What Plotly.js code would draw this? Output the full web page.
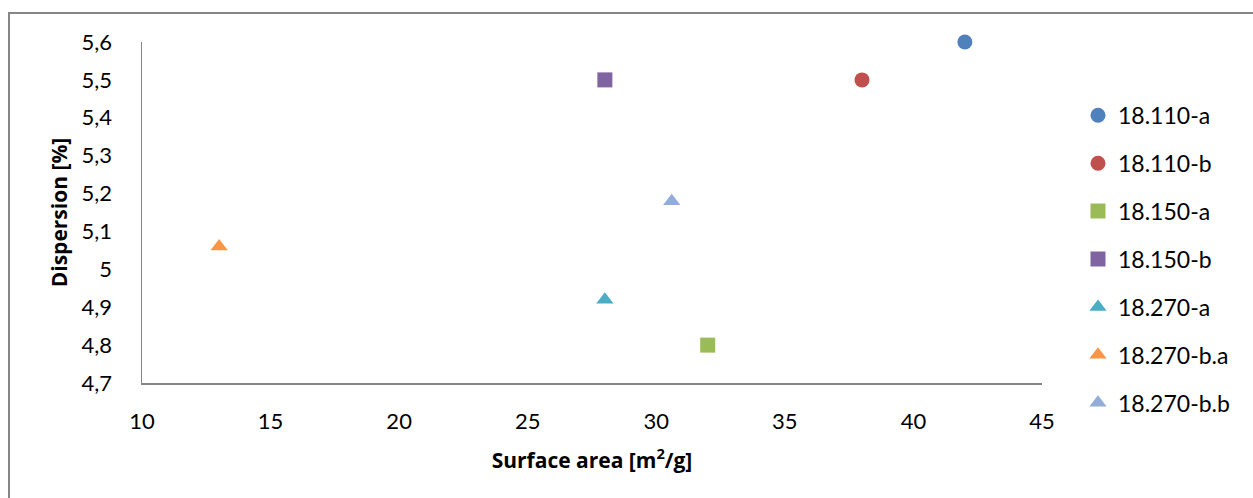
<!DOCTYPE html>
<html>
<head>
<meta charset="utf-8">
<script src="https://cdn.plot.ly/plotly-3.0.1.min.js"></script>
<style>html,body{margin:0;padding:0;background:#fff;}#chart{width:1253px;height:498px;}</style>
</head>
<body>
<div id="chart"></div>
<script>
const seriesNames = ["18.110-a", "18.110-b", "18.150-a", "18.150-b", "18.270-a", "18.270-b.a", "18.270-b.b"];
const surfaceArea = [42, 38, 32, 28, 28, 13, 30.6];
const dispersion = [5.6, 5.5, 4.8, 5.5, 4.92, 5.06, 5.18];
const colors = ["#4F81BD", "#C0504D", "#9BBB59", "#8064A2", "#4BACC6", "#F79646", "#91ADD8"];
const symbols = ["circle", "circle", "square", "square", "triangle-up", "triangle-up", "triangle-up"];
const yTickVals = [4.7, 4.8, 4.9, 5.0, 5.1, 5.2, 5.3, 5.4, 5.5, 5.6];
const yTickText = ["4,7", "4,8", "4,9", "5", "5,1", "5,2", "5,3", "5,4", "5,5", "5,6"];

const fontFam = "Lato, Carlito, Calibri, sans-serif";
const titleFam = "Open Sans, sans-serif";
const traces = seriesNames.map((n, i) => ({
  type: "scatter", mode: "markers", name: n, cliponaxis: false,
  x: [surfaceArea[i]], y: [dispersion[i]],
  legendgroup: "g" + i,
  marker: {color: colors[i], symbol: symbols[i], size: 15, line: {width: 0}}
}));

const layout = {
  width: 1253, height: 498,
  margin: {l: 142, r: 211, t: 42, b: 115},
  paper_bgcolor: "#fff", plot_bgcolor: "#fff",
  font: {family: fontFam, size: 22, color: "#000"},
  showlegend: true,
  legend: {x: 1.04, xanchor: "left", y: 0.848, yanchor: "top", traceorder: "grouped", tracegroupgap: 15, font: {size: 23}},
  xaxis: {
    range: [10, 45], dtick: 5, tick0: 10, showgrid: false, zeroline: false,
    showline: true, linecolor: "#868686", linewidth: 1.5, ticks: "", ticklabelstandoff: 18,
    title: {text: "Surface area [m<sup>2</sup>/g]", font: {family: titleFam, size: 21, weight: 700}, standoff: 20}
  },
  yaxis: {
    range: [4.7, 5.6], tickvals: yTickVals, ticktext: yTickText, showgrid: false, zeroline: false,
    showline: true, linecolor: "#868686", linewidth: 1.5, ticks: "", ticklabelstandoff: 24,
    title: {text: "Dispersion [%]", font: {family: titleFam, size: 21, weight: 700}, standoff: 8}
  },
  shapes: [{
    type: "rect", xref: "paper", yref: "paper",
    x0: (9 - 142) / 900, x1: (1262 - 142) / 900,
    y0: (383 - 510) / 341, y1: (383 - 13) / 341,
    line: {color: "#868686", width: 2}, fillcolor: "rgba(0,0,0,0)", layer: "below"
  }]
};
Plotly.newPlot("chart", traces, layout, {displayModeBar: false, staticPlot: true});
</script>
</body>
</html>
